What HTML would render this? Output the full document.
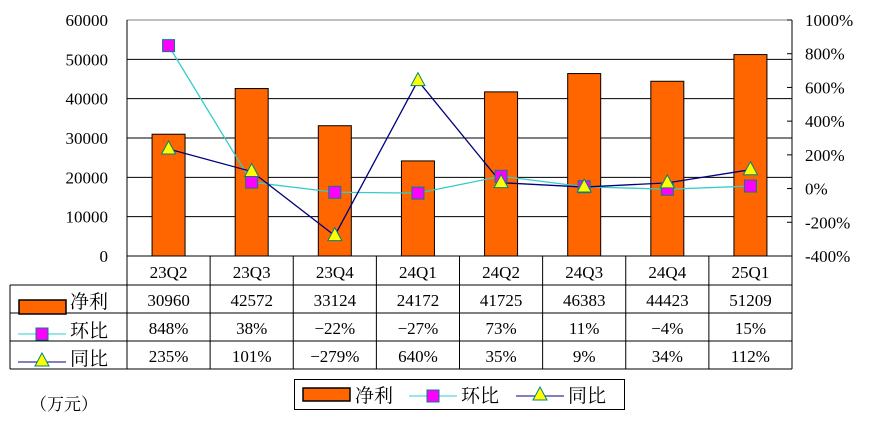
<!DOCTYPE html>
<html><head><meta charset="utf-8"><style>
html,body{margin:0;padding:0;background:#fff;}
svg{display:block;font-family:"Liberation Serif","Noto Serif CJK SC",serif;}
</style></head><body>
<svg id="c" width="874" height="438" viewBox="0 0 874 438"></svg>
<script>
const categories=["23Q2","23Q3","23Q4","24Q1","24Q2","24Q3","24Q4","25Q1"];
const profit=[30960,42572,33124,24172,41725,46383,44423,51209];
const qoq=[848,38,-22,-27,73,11,-4,15];
const yoy=[235,101,-279,640,35,9,34,112];
const leftTicks=[0,10000,20000,30000,40000,50000,60000];
const rightTicks=[-400,-200,0,200,400,600,800,1000];
const qoqLabels=["848%","38%","−22%","−27%","73%","11%","−4%","15%"];
const yoyLabels=["235%","101%","−279%","640%","35%","9%","34%","112%"];

const svg=document.getElementById('c');
const NS='http://www.w3.org/2000/svg';
const L=127,R=792,T=20,B=256;
const cw=(R-L)/categories.length;
function xC(i){return L+cw*(i+0.5);}
function yL(v){return B-(v-0)/(60000)*(B-T);}
function yR(v){return B-(v+400)/1400*(B-T);}
function mk(tag,attrs,parent){const e=document.createElementNS(NS,tag);for(const k in attrs)e.setAttribute(k,attrs[k]);(parent||svg).appendChild(e);return e;}
function txt(s,x,y,anchor,size,parent){const t=mk('text',{x:x,y:y,'text-anchor':anchor,'font-size':size||16,fill:'#000'},parent);t.textContent=s;return t;}

// gridlines & left ticks
leftTicks.forEach(v=>{
  if(v>0&&v<60000){const g=mk('line',{x1:L,x2:R,y1:yL(v),y2:yL(v),stroke:'#000','stroke-width':1});
  
  }
  const t=txt(String(v),108,yL(v)+6,'end',17);
  
  
});
mk('line',{x1:L,x2:R,y1:T,y2:T,stroke:'#808080'});
mk('line',{x1:L,x2:L,y1:T,y2:B,stroke:'#000'});
mk('line',{x1:R,x2:R,y1:T,y2:B,stroke:'#000'});
rightTicks.forEach(v=>{
  mk('line',{x1:R-5,x2:R,y1:yR(v),y2:yR(v),stroke:'#000'});
  const t=txt(v+'%',805,yR(v)+6,'start',17);
  
  
});

// bars
profit.forEach((v,i)=>{
  const b=mk('rect',{x:xC(i)-16.5,y:yL(v),width:33,height:B-yL(v),fill:'#FF6600',stroke:'#000','stroke-width':1});
  
  
});

// lines
function poly(vals,color,name){
  const p=mk('polyline',{points:vals.map((v,i)=>xC(i)+','+yR(v)).join(' '),fill:'none',stroke:color,'stroke-width':1.3});
  
  
}
poly(qoq,'#33CCCC','qoq-line');
poly(yoy,'#000080','yoy-line');
function sq(x,y,p){return mk('rect',{x:x-6,y:y-6,width:12,height:12,fill:'#FF00FF',stroke:'#008080','stroke-width':1},p);}
function tri(x,y,p){return mk('polygon',{points:(x)+','+(y-8)+' '+(x-7)+','+(y+5)+' '+(x+7)+','+(y+5),fill:'#FFFF00',stroke:'#008080','stroke-width':1},p);}
qoq.forEach((v,i)=>{const m=sq(xC(i),yR(v));
  
  });
yoy.forEach((v,i)=>{const m=tri(xC(i),yR(v));
  
  });

// table
const rows=[B,285,313,341,369];
mk('line',{x1:L,x2:R,y1:B,y2:B,stroke:'#000'});
[285,313,341,369].forEach(y=>mk('line',{x1:10,x2:R,y1:y,y2:y,stroke:'#000'}));
mk('line',{x1:10,x2:10,y1:285,y2:369,stroke:'#000'});
for(let i=0;i<=categories.length;i++){const x=L+cw*i;mk('line',{x1:x,x2:x,y1:B,y2:369,stroke:'#000'});}
categories.forEach((c,i)=>{
  const t=txt(c,xC(i),278,'middle',17);
  
  
  const a=txt(String(profit[i]),xC(i),306,'middle',17);
  
  
  const b=txt(qoqLabels[i],xC(i),334,'middle',17);
  
  
  const d=txt(yoyLabels[i],xC(i),362,'middle',17);
  
  
});
// table row headers
mk('rect',{x:19,y:300,width:47,height:14,fill:'#FF6600',stroke:'#000','stroke-width':1.5});
txt('净利',70,308,'start',19);
mk('line',{x1:18,x2:66,y1:334,y2:334,stroke:'#33CCCC'});sq(42,334);
txt('环比',70,337,'start',19);
mk('line',{x1:18,x2:66,y1:362,y2:362,stroke:'#000080'});tri(42,361);
txt('同比',70,365,'start',19);

// legend
const lg=mk('g',{});


mk('rect',{x:294.5,y:379.5,width:330,height:30,fill:'#fff',stroke:'#000'},lg);
mk('rect',{x:303,y:388,width:47,height:13,fill:'#FF6600',stroke:'#000','stroke-width':1.5},lg);
txt('净利',355,402,'start',19,lg);
mk('line',{x1:409,x2:457,y1:396,y2:396,stroke:'#33CCCC'},lg);sq(433,396,lg);
txt('环比',461,402,'start',19,lg);
mk('line',{x1:516,x2:564,y1:396,y2:396,stroke:'#000080'},lg);tri(540,395,lg);
txt('同比',568,402,'start',19,lg);

const u=txt('（万元）',30,410,'start',17);


</script>
</body></html>
